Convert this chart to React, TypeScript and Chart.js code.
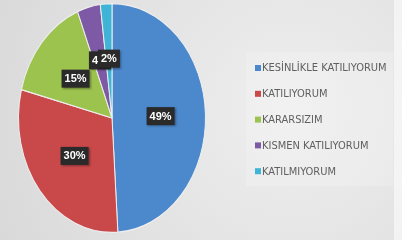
import React, { useEffect, useRef } from "react";
import { Chart, registerables } from "chart.js";
Chart.register(...registerables);

const categories = [
  "KESİNLİKLE KATILIYORUM",
  "KATILIYORUM",
  "KARARSIZIM",
  "KISMEN KATILIYORUM",
  "KATILMIYORUM",
];
const values = [49, 30, 15, 4, 2];
const colors = ["#4c88cc", "#c9484a", "#9dc34f", "#7e5aa6", "#3fb4d6"];

export default function App() {
  const ref = useRef<HTMLCanvasElement>(null);
  useEffect(() => {
    document.body.style.margin = "0";
    const SY = 115 / 94;
    const bg = {
      id: "bg",
      beforeDraw(chart: any) {
        const { ctx, width, height } = chart;
        ctx.save();
        const g = ctx.createRadialGradient(290, 110, 10, 290, 110, 320);
        g.addColorStop(0, "#eeeeee");
        g.addColorStop(1, "#d9d9d9");
        ctx.fillStyle = g;
        ctx.fillRect(0, 0, width, height);
        ctx.fillStyle = "rgba(255,255,255,0.18)";
        ctx.fillRect(246, 52, 147, 134);
        ctx.fillStyle = "rgba(255,255,255,0.55)";
        ctx.fillRect(394, 0, 8, height);
        ctx.restore();
      },
    };
    const squash = {
      id: "squash",
      beforeDatasetsDraw(chart: any) {
        const a = chart.getDatasetMeta(0).data[0] as any;
        const ctx = chart.ctx;
        ctx.save();
        ctx.translate(a.x, a.y);
        ctx.scale(1, SY);
        ctx.translate(-a.x, -a.y);
      },
      afterDatasetsDraw(chart: any) {
        const ctx = chart.ctx;
        ctx.restore();
        const meta = chart.getDatasetMeta(0);
        ctx.save();
        ctx.font = "bold 11px 'Liberation Sans', sans-serif";
        ctx.textAlign = "center";
        ctx.textBaseline = "middle";
        meta.data.forEach((arc: any, i: number) => {
          const mid = (arc.startAngle + arc.endAngle) / 2;
          const r = arc.outerRadius * 0.52;
          const x = arc.x + Math.cos(mid) * r;
          const y = arc.y + Math.sin(mid) * r * SY;
          const txt = values[i] + "%";
          const w = ctx.measureText(txt).width + 6;
          const h = 18;
          ctx.shadowColor = "rgba(0,0,0,0.35)";
          ctx.shadowBlur = 2;
          ctx.shadowOffsetX = 1;
          ctx.shadowOffsetY = 1;
          ctx.fillStyle = "#2a2a2a";
          ctx.fillRect(x - w / 2, y - h / 2, w, h);
          ctx.shadowColor = "transparent";
          ctx.fillStyle = "#ffffff";
          ctx.fillText(txt, x, y + 0.5);
        });
        ctx.restore();
      },
    };
    const legend = {
      id: "customLegend",
      afterDraw(chart: any) {
        const ctx = chart.ctx;
        ctx.save();
        ctx.font = "11px 'Liberation Sans Narrow', 'DejaVu Sans Condensed', sans-serif";
        ctx.textBaseline = "middle";
        categories.forEach((c, i) => {
          const y = 68 + i * 25.8;
          ctx.fillStyle = colors[i];
          ctx.fillRect(255, y - 3, 6, 6);
          ctx.fillStyle = "#606060";
          ctx.fillText(c, 262, y + 0.5);
        });
        ctx.restore();
      },
    };
    const chart = new Chart(ref.current!, {
      type: "pie",
      data: {
        labels: categories,
        datasets: [
          {
            data: values,
            backgroundColor: colors,
            borderColor: "#eeeeee",
            borderWidth: 1,
          },
        ],
      },
      options: {
        animation: false,
        responsive: false,
        layout: { padding: { left: 18, right: 196, top: 24, bottom: 28 } },
        plugins: { legend: { display: false }, tooltip: { enabled: false } },
      },
      plugins: [bg, squash, legend],
    });
    return () => chart.destroy();
  }, []);
  return (
    <canvas ref={ref} width={402} height={240} style={{ display: "block", width: 402, height: 240 }} />
  );
}
